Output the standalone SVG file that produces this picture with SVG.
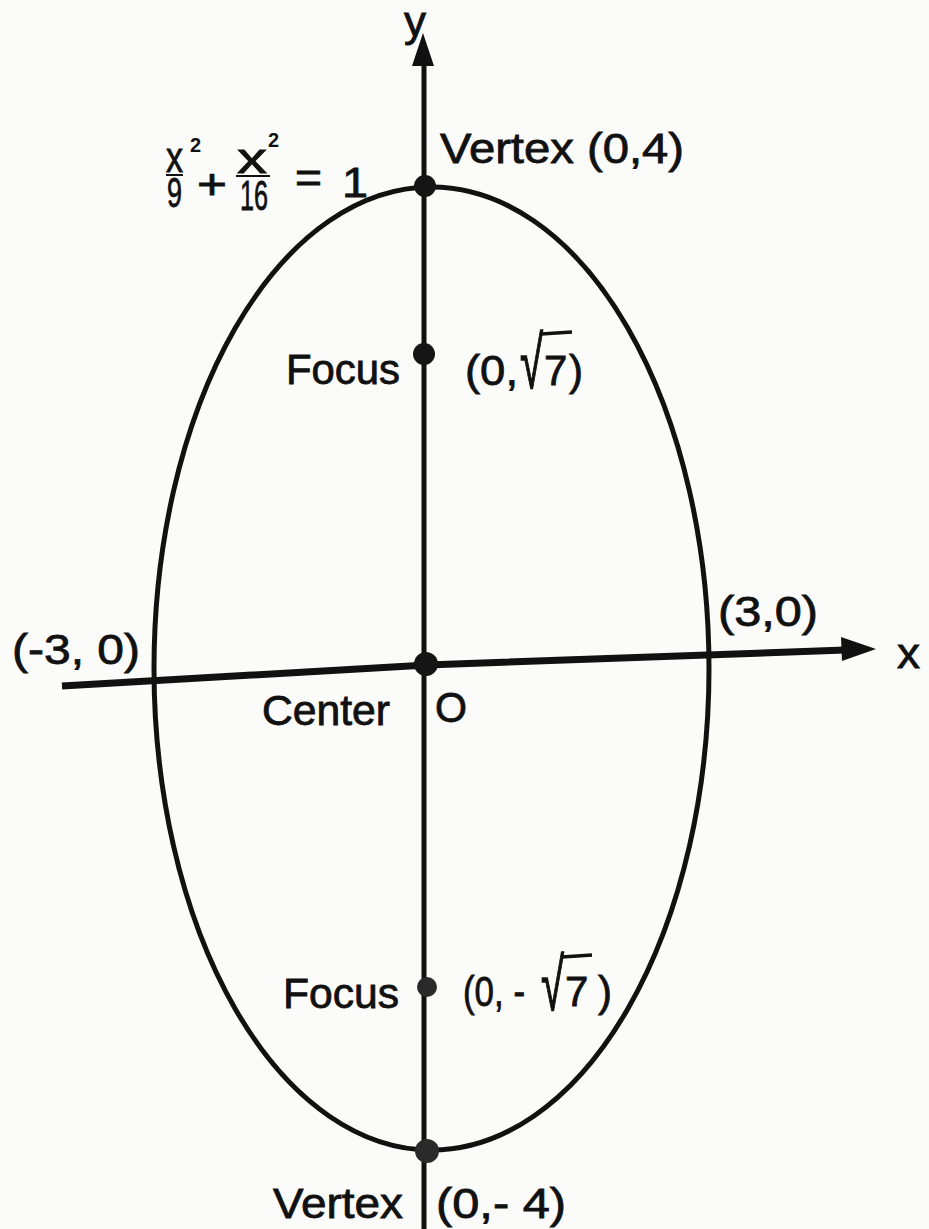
<svg xmlns="http://www.w3.org/2000/svg" width="929" height="1229" viewBox="0 0 929 1229">
<style>
.t{font-family:"Liberation Sans",Arial,sans-serif;fill:#111;stroke:#111;stroke-width:0.8px;font-size:42px}
.s{font-family:"Liberation Sans",Arial,sans-serif;fill:#111;font-size:20px;font-weight:bold}
.ln{stroke:#111;fill:none}
.dot{fill:#151515}
</style>
<rect width="929" height="1229" fill="#fbfbf9"/>
<g id="ellipse">
<ellipse cx="431.5" cy="668.5" rx="277.5" ry="481.5" class="ln" stroke-width="5"/>
</g>
<g id="connectors">
<line x1="424" y1="1229" x2="424" y2="62" class="ln" stroke-width="5"/>
<path d="M423,33 L412,66 L434,66 z" fill="#111"/>
<path d="M62,686 L427,665 L845,650" class="ln" stroke-width="7"/>
<path d="M876,649 L841,637 L842,661 z" fill="#111"/>
</g>
<g id="axis-labels">
<text class="t" x="404" y="36" font-size="40" textLength="22" lengthAdjust="spacingAndGlyphs">y</text>
<text class="t" x="897" y="668" font-size="46" textLength="23" lengthAdjust="spacingAndGlyphs">x</text>
</g>
<g id="equation">
<text class="t" x="166" y="172" font-size="44" textLength="17" lengthAdjust="spacingAndGlyphs">x</text>
<text class="s" x="190" y="152">2</text>
<line x1="166" y1="175" x2="183" y2="175" class="ln" stroke-width="2"/>
<text class="t" x="167" y="207" font-size="44" textLength="15" lengthAdjust="spacingAndGlyphs">9</text>
<text class="t" x="197" y="199" font-size="56" textLength="30" lengthAdjust="spacingAndGlyphs">+</text>
<text class="t" x="237" y="173" font-size="44" textLength="30" lengthAdjust="spacingAndGlyphs">x</text>
<text class="s" x="268" y="147">2</text>
<line x1="236" y1="176" x2="270" y2="176" class="ln" stroke-width="2"/>
<text class="t" x="240" y="210" font-size="44" textLength="28" lengthAdjust="spacingAndGlyphs">16</text>
<text class="t" x="295" y="192" font-size="44" textLength="27" lengthAdjust="spacingAndGlyphs">=</text>
<text class="t" x="342" y="197" font-size="54" textLength="26" lengthAdjust="spacingAndGlyphs">1</text>
</g>
<g id="vertex-top">
<circle cx="425" cy="186" r="11" class="dot"/>
<text class="t" x="440" y="163" font-size="44" textLength="244" lengthAdjust="spacingAndGlyphs">Vertex (0,4)</text>
</g>
<g id="focus-top">
<circle cx="424" cy="354" r="11" class="dot"/>
<text class="t" x="286" y="384" textLength="114" lengthAdjust="spacingAndGlyphs">Focus</text>
<text class="t" x="465" y="385" textLength="53" lengthAdjust="spacingAndGlyphs">(0,</text>
<text class="t" transform="translate(520,388) scale(1,1.75)" x="0" y="0">√</text>
<text class="t" x="544" y="385">7</text>
<text class="t" x="569" y="385">)</text>
<line x1="541" y1="334" x2="572" y2="332" class="ln" stroke-width="3.5"/>
</g>
<g id="left-point">
<text class="t" x="12" y="664" textLength="128" lengthAdjust="spacingAndGlyphs">(-3, 0)</text>
</g>
<g id="right-point">
<text class="t" x="718" y="626" textLength="100" lengthAdjust="spacingAndGlyphs">(3,0)</text>
</g>
<g id="center">
<circle cx="426" cy="664" r="12" class="dot"/>
<text class="t" x="262" y="725" textLength="128" lengthAdjust="spacingAndGlyphs">Center</text>
<text class="t" x="435" y="722" textLength="32" lengthAdjust="spacingAndGlyphs">O</text>
</g>
<g id="focus-bottom">
<circle cx="427" cy="987" r="10" fill="#2a2a2a"/>
<text class="t" x="283" y="1008" textLength="116" lengthAdjust="spacingAndGlyphs">Focus</text>
<text class="t" x="463" y="1006" textLength="62" lengthAdjust="spacingAndGlyphs">(0, -</text>
<text class="t" transform="translate(541,1010) scale(1,1.75)" x="0" y="0">√</text>
<text class="t" x="565" y="1006">7</text>
<text class="t" x="598" y="1006">)</text>
<line x1="562" y1="957" x2="592" y2="955" class="ln" stroke-width="3.5"/>
</g>
<g id="vertex-bottom">
<circle cx="427" cy="1151" r="12" fill="#2a2a2a"/>
<text class="t" x="273" y="1218" textLength="130" lengthAdjust="spacingAndGlyphs">Vertex</text>
<text class="t" x="436" y="1218" textLength="130" lengthAdjust="spacingAndGlyphs">(0,- 4)</text>
</g>
</svg>
